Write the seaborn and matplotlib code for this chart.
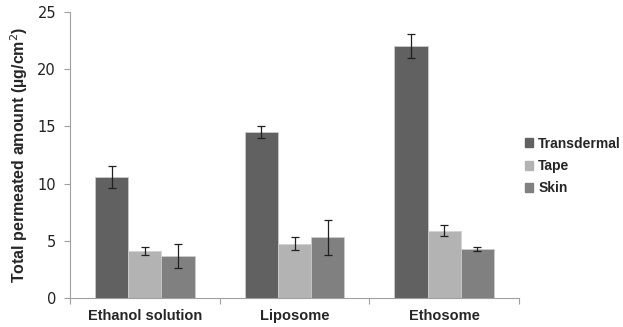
import matplotlib
matplotlib.use("Agg")
import matplotlib.pyplot as plt
import seaborn as sns
import pandas as pd
import numpy as np

categories = ["Ethanol solution", "Liposome", "Ethosome"]
series = ["Transdermal", "Tape", "Skin"]
transdermal = [10.55, 14.5, 22.0]
tape = [4.1, 4.75, 5.9]
skin = [3.65, 5.3, 4.3]
transdermal_err = [0.95, 0.5, 1.05]
tape_err = [0.35, 0.55, 0.5]
skin_err = [1.05, 1.5, 0.2]
colors = ["#616161", "#b3b3b3", "#808080"]

sns.set_style("white")
plt.rcParams['font.family'] = ['DejaVu Sans']

rows = []
vals = {"Transdermal": transdermal, "Tape": tape, "Skin": skin}
errs = {"Transdermal": transdermal_err, "Tape": tape_err, "Skin": skin_err}
for s in series:
    for c, v, e in zip(categories, vals[s], errs[s]):
        rows.append({"cat": c, "series": s, "val": v, "err": e})
df = pd.DataFrame(rows)

fig = plt.figure(figsize=(6.23, 3.27), dpi=100)
ax = fig.add_axes([70/623, 29/327, 449/623, 286/327])
sns.barplot(data=df, x="cat", y="val", hue="series", order=categories,
            hue_order=series, palette=colors, width=0.667, gap=0,
            errorbar=None, ax=ax, saturation=1, edgecolor="#d0d0d0", linewidth=0.5,
            legend=False)

for container, s in zip(ax.containers, series):
    for patch, e in zip(container.patches, errs[s]):
        xc = patch.get_x() + patch.get_width() / 2
        ax.errorbar(xc, patch.get_height(), yerr=e, fmt="none",
                    ecolor="#202020", elinewidth=0.9, capsize=3, capthick=0.9)

ax.set_ylim(0, 25)
ax.set_yticks([0, 5, 10, 15, 20, 25])
ax.set_xlim(-0.5, 2.5)
ax.set_xticks([-0.5, 0.5, 1.5, 2.5], minor=False)
ax.set_xticklabels([])
ax.set_xticks([0, 1, 2], minor=True)
ax.set_xticklabels(categories, minor=True, fontweight="bold",
                   fontfamily="Liberation Sans", fontsize=10.5)
ax.tick_params(axis="x", which="minor", length=0, pad=8)
ax.tick_params(axis="x", which="major", length=4, color="#a0a0a0", direction="out", bottom=True)
ax.tick_params(axis="y", length=4, color="#a0a0a0", direction="out", left=True,
               labelsize=10.5, labelcolor="#222222", pad=6)
ax.set_xlabel("")
ax.set_ylabel("Total permeated amount (\u00b5g/cm$^{2}$)", fontweight="bold",
              fontfamily="Liberation Sans", fontsize=11.5, labelpad=5)
for sp in ["top", "right"]:
    ax.spines[sp].set_visible(False)
for sp in ["left", "bottom"]:
    ax.spines[sp].set_color("#a0a0a0")
    ax.spines[sp].set_linewidth(0.8)

handles = [plt.Rectangle((0, 0), 1, 1, color=c) for c in colors]
leg = fig.legend(handles, series, loc="center left", bbox_to_anchor=(525/623, 1 - 166/327),
                 frameon=False, handlelength=0.6, handleheight=0.6, handletextpad=0.35,
                 labelspacing=0.6, borderaxespad=0, borderpad=0,
                 prop={"family": "Liberation Sans", "weight": "bold", "size": 10})

fig.savefig("out.png", dpi=100)
